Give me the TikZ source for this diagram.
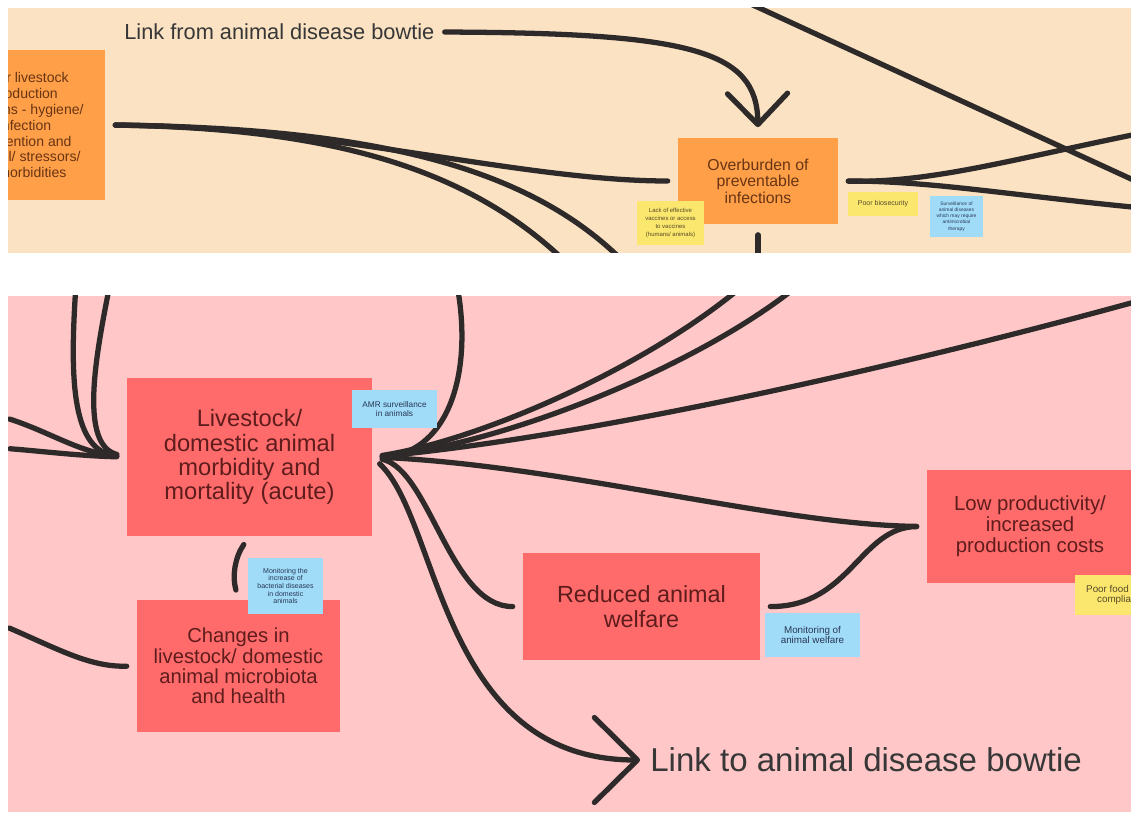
\documentclass[tikz,border=0pt]{standalone}
\usepackage{fontspec}
\setmainfont{Liberation Sans}
\usetikzlibrary{arrows.meta,positioning}
\definecolor{beigebg}{RGB}{250,226,194}
\definecolor{pinkbg}{RGB}{255,199,199}
\definecolor{orangebox}{RGB}{255,160,72}
\definecolor{redbox}{RGB}{255,107,107}
\definecolor{bluenote}{RGB}{160,220,248}
\definecolor{yellownote}{RGB}{251,230,110}
\definecolor{inkline}{RGB}{46,42,42}
\definecolor{redtxt}{RGB}{95,28,28}
\definecolor{orangetxt}{RGB}{105,52,20}
\definecolor{notetxt}{RGB}{40,55,85}
\definecolor{ynotetxt}{RGB}{85,75,40}
\definecolor{labeltxt}{RGB}{55,55,55}

\begin{document}
\begin{tikzpicture}[
    x=0.02cm, y=-0.02cm,
    box/.style={rectangle, inner sep=0pt, align=center, fill=redbox, text=redtxt},
    obox/.style={box, fill=orangebox, text=orangetxt},
    note/.style={rectangle, inner sep=0pt, align=center, fill=bluenote, text=notetxt},
    ynote/.style={note, fill=yellownote, text=ynotetxt},
    lbl/.style={anchor=west, inner sep=0pt, text=labeltxt},
    conn/.style={draw=inkline, line width=3pt, line cap=round, shorten <=0.2cm, shorten >=0.2cm}
]
\useasboundingbox (0,0) rectangle (1131,813);

% top panel: infections
\begin{scope}
\clip (8,8) rectangle (1131,253);
\fill[beigebg] (8,8) rectangle (1131,253);

\node[obox, minimum width=3.2cm, minimum height=3cm, font=\fontsize{8}{9.1}\selectfont] (prodsys) at (25,125)
    {Poor livestock\\production\\systems - hygiene/\\infection\\prevention and\\control/ stressors/\\comorbidities};
\node[obox, minimum width=3.2cm, minimum height=1.74cm, font=\fontsize{9}{9.4}\selectfont] (overburden) at (758,181)
    {Overburden of\\preventable\\infections};
\node[lbl, font=\fontsize{12.4}{14}\selectfont] (linkfrom) at (124,32) {Link from animal disease bowtie};

\coordinate (ta) at (568,264);
\coordinate (tb) at (626,264);
\coordinate (tc) at (758,264);
\coordinate (td) at (1142,133);
\coordinate (te) at (1142,208);
\coordinate (tf) at (742,0);
\coordinate (tg) at (1142,184);

\draw[conn] (prodsys.east) .. controls (330,126) and (520,181) .. (overburden.west);
\draw[conn] (prodsys.east) .. controls (330,128) and (465,168) .. (ta);
\draw[conn] (prodsys.east) .. controls (360,128) and (520,162) .. (tb);
\draw[conn, -{Straight Barb[round,length=0.62cm,width=1.2cm]}] (linkfrom.east) .. controls (690,33) and (757,50) .. (overburden.north);
\draw[conn] (overburden.south) -- (tc);
\draw[conn] (overburden.east) .. controls (930,183) and (1010,160) .. (td);
\draw[conn] (overburden.east) .. controls (930,181) and (1010,195) .. (te);
\draw[conn] (tf) -- (tg);

\node[ynote, minimum width=1.34cm, minimum height=0.88cm, font=\fontsize{3.4}{4.5}\selectfont] (vaccines) at (670.5,223)
    {Lack of effective\\vaccines or access\\to vaccines\\(humans/ animals)};
\node[ynote, minimum width=1.4cm, minimum height=0.48cm, font=\fontsize{4}{4.5}\selectfont] (biosec) at (883,204)
    {Poor biosecurity};
\node[note, minimum width=1.06cm, minimum height=0.82cm, font=\fontsize{2.8}{3.5}\selectfont] (survdis) at (956.5,216.5)
    {Surveillance of\\animal diseases\\which may require\\antimicrobial\\therapy};
\end{scope}

% bottom panel: animal outcomes
\begin{scope}
\clip (8,296) rectangle (1131,812);
\fill[pinkbg] (8,296) rectangle (1131,812);

\node[box, minimum width=4.9cm, minimum height=3.16cm, font=\fontsize{13.5}{13.8}\selectfont] (livestock) at (249.5,457)
    {Livestock/\\domestic animal\\morbidity and\\mortality (acute)};
\node[box, minimum width=4.06cm, minimum height=2.64cm, font=\fontsize{11.5}{11.5}\selectfont] (changes) at (238.5,666)
    {Changes in\\livestock/ domestic\\animal microbiota\\and health};
\node[box, minimum width=4.74cm, minimum height=2.14cm, font=\fontsize{13.3}{14.2}\selectfont] (welfare) at (641.5,606.5)
    {Reduced animal\\welfare};
\node[box, minimum width=4.12cm, minimum height=2.26cm, font=\fontsize{11.6}{11.9}\selectfont] (lowprod) at (1030,526.5)
    {Low productivity/\\increased\\production costs};
\node[lbl, font=\fontsize{18.8}{20}\selectfont] (linkto) at (650,760) {Link to animal disease bowtie};

\coordinate (ba) at (76,284);
\coordinate (bb) at (110,284);
\coordinate (bc) at (0,416);
\coordinate (bd) at (0,448);
\coordinate (be) at (457,284);
\coordinate (bf) at (745,284);
\coordinate (bg) at (800,284);
\coordinate (bh) at (1142,300);
\coordinate (bi) at (0,624);

\draw[conn] (ba) .. controls (70,380) and (72,452) .. (livestock.west);
\draw[conn] (bb) .. controls (95,360) and (80,445) .. (livestock.west);
\draw[conn] (bc) .. controls (50,432) and (80,453) .. (livestock.west);
\draw[conn] (bd) .. controls (40,451) and (80,456) .. (livestock.west);
\draw[conn] (livestock.east) .. controls (445,455) and (472,380) .. (be);
\draw[conn] (livestock.east) .. controls (480,440) and (640,370) .. (bf);
\draw[conn] (livestock.east) .. controls (500,445) and (690,370) .. (bg);
\draw[conn] (livestock.east) .. controls (560,440) and (850,380) .. (bh);
\draw[conn] (livestock.east) .. controls (560,465) and (780,525) .. (lowprod.west);
\draw[conn] (livestock.east) .. controls (430,470) and (450,607) .. (welfare.west);
\draw[conn, -{Straight Barb[round,length=0.86cm,width=1.7cm]}] (livestock.east) .. controls (440,520) and (440,760) .. (linkto.west);
\draw[conn] (welfare.east) .. controls (850,607) and (860,527) .. (lowprod.west);
\draw[conn] (changes.north) to[bend left=25] (livestock.south);
\draw[conn] (bi) .. controls (60,650) and (90,667) .. (changes.west);

\node[note, minimum width=1.7cm, minimum height=0.76cm, font=\fontsize{4.7}{5}\selectfont] (amrsurv) at (394.5,409)
    {AMR surveillance\\in animals};
\node[note, minimum width=1.5cm, minimum height=1.12cm, font=\fontsize{4}{4.3}\selectfont] (monbact) at (285.5,586)
    {Monitoring the\\increase of\\bacterial diseases\\in domestic\\animals};
\node[note, minimum width=1.9cm, minimum height=0.88cm, font=\fontsize{5.6}{5.9}\selectfont] (monwelf) at (812.5,635)
    {Monitoring of\\animal welfare};
\node[ynote, minimum width=1.9cm, minimum height=0.8cm, font=\fontsize{5.6}{5.9}\selectfont] (poorfood) at (1122,595)
    {Poor food safety\\compliance};
\end{scope}
\end{tikzpicture}
\end{document}
